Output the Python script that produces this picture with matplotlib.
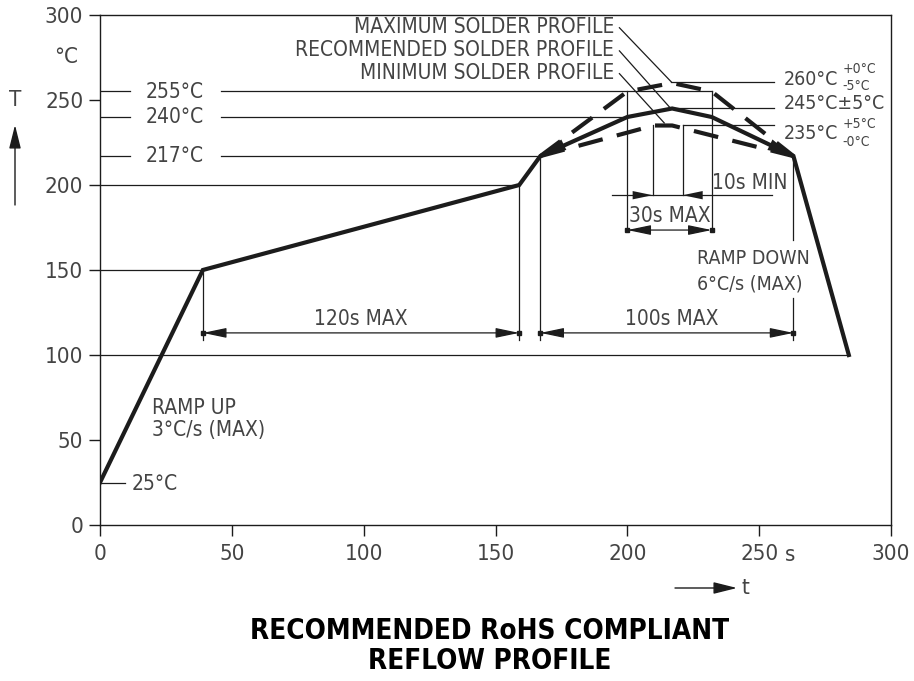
import matplotlib
matplotlib.use("Agg")  # headless
import matplotlib.pyplot as plt  # noqa: E402

# recommended profile (solid)
time_s = [0, 39, 159, 167, 200, 217, 232, 263, 284]
temp_rec = [25, 150, 200, 217, 240, 245, 240, 217, 100]
# maximum / minimum profiles (dashed)
max_time = [167, 200, 217, 232, 263]
max_temp = [217, 255, 260, 255, 217]
min_time = [167, 210, 217, 263]
min_temp = [217, 235, 235, 217]

ticks = [0, 50, 100, 150, 200, 250, 300]
# left reference levels and where their lines stop
ref_temps = [255, 240, 217]
ref_ends = [232, 200, 167]

plt.rcParams["font.family"] = ["DejaVu Sans"]
plt.rcParams["font.stretch"] = "condensed"
INK = "#1c1c1c"
TXT = "#444444"
FS = 15
FS_R = 14

W, H = 914, 681


def fpx(x, y):
    """image pixel -> figure fraction"""
    return x / W, 1 - y / H


fig = plt.figure(figsize=(W / 100, H / 100), dpi=100)
ax = fig.add_axes([100 / W, 1 - 525 / H, 791 / W, 510 / H])
ax.set_xlim(0, 300)
ax.set_ylim(0, 300)
ax.set_xticks(ticks)
ax.set_yticks(ticks)
ax.tick_params(direction="out", length=8, width=1, color=INK,
               labelsize=16, labelcolor=TXT)
ax.tick_params(axis="x", pad=6)
ax.tick_params(axis="y", pad=4)
for sp in ax.spines.values():
    sp.set_color(INK)
    sp.set_linewidth(1)

thin = dict(color=INK, lw=0.9)

# profiles
ax.plot(time_s, temp_rec, color=INK, lw=3, solid_joinstyle="miter", zorder=5)
ax.plot(max_time, max_temp, color=INK, lw=3, dashes=(6, 3.5), zorder=5)
ax.plot(min_time, min_temp, color=INK, lw=3, dashes=(6, 3.5), zorder=5)

# arrowheads at both ends of the peak zone
arr = dict(arrowstyle="-|>,head_length=1.2,head_width=0.3", color=INK,
           lw=0, mutation_scale=14)
ax.annotate("", xy=(time_s[3], temp_rec[3]), xytext=(175, 223),
            arrowprops=arr, zorder=6)
ax.annotate("", xy=(time_s[7], temp_rec[7]), xytext=(255, 223),
            arrowprops=arr, zorder=6)

# horizontal reference lines
ax.plot([0, time_s[1]], [150, 150], **thin)
ax.plot([0, time_s[2]], [200, 200], **thin)
ax.plot([0, time_s[-1]], [100, 100], **thin)
for T, end in zip(ref_temps, ref_ends):
    ax.plot([0, 11.4], [T, T], **thin)
    ax.plot([46, end], [T, T], **thin)
    ax.text(28.5, T, f"{T}°C", ha="center", va="center", fontsize=FS, color=TXT)

# 25 C
ax.plot([0, 9.5], [25, 25], **thin)
ax.text(12, 24, "25°C", ha="left", va="center", fontsize=FS, color=TXT)

# verticals down to the dimension lines
ax.plot([39, 39], [150, 109], **thin)
ax.plot([159, 159], [200, 109], **thin)
ax.plot([167, 167], [217, 109], **thin)
ax.plot([263, 263], [217, 167.5], **thin)
ax.plot([263, 263], [133.5, 109], **thin)

# dimension lines
dim = dict(arrowstyle="<|-|>,head_length=1.2,head_width=0.25", color=INK,
           lw=0.9, mutation_scale=12, shrinkA=0, shrinkB=0)
ax.annotate("", xy=(39, 113), xytext=(159, 113), arrowprops=dim)
ax.annotate("", xy=(167, 113), xytext=(263, 113), arrowprops=dim)
ax.plot([39, 159, 167, 263], [113] * 4, "s", color=INK, ms=3)
ax.text(99, 121, "120s MAX", ha="center", va="center", fontsize=FS, color=TXT)
ax.text(217, 121, "100s MAX", ha="center", va="center", fontsize=FS, color=TXT)

# 255 box and 30s MAX
ax.plot([200, 200], [255, 173.5], **thin)
ax.plot([232, 232], [255, 173.5], **thin)
ax.annotate("", xy=(200, 173.5), xytext=(232, 173.5), arrowprops=dim)
ax.plot([200, 232], [173.5, 173.5], "s", color=INK, ms=3)
ax.text(216, 182, "30s MAX", ha="center", va="center", fontsize=FS, color=TXT)

# 10s MIN
ax.plot([209.6, 209.6], [235, 194], **thin)
ax.plot([221, 221], [235, 194], **thin)
ax.plot([194, 255], [194, 194], **thin)
one = dict(arrowstyle="-|>,head_length=1.2,head_width=0.25", color=INK,
           lw=0, mutation_scale=12, shrinkA=0, shrinkB=0)
ax.annotate("", xy=(209.6, 194), xytext=(197, 194), arrowprops=one)
ax.annotate("", xy=(221, 194), xytext=(234, 194), arrowprops=one)
ax.text(246.5, 201, "10s MIN", ha="center", va="center", fontsize=FS, color=TXT)

# right-hand peak labels
ax.plot([216.7, 255.7], [260.6, 260.6], **thin)
ax.plot([216, 255.7], [245, 245], **thin)
ax.plot([221, 255.7], [235, 235], **thin)
ax.text(259.5, 262, "260°C", ha="left", va="center", fontsize=FS_R, color=TXT)
ax.text(281.5, 268.5, "+0°C", ha="left", va="center", fontsize=10, color=TXT)
ax.text(281.5, 258, "-5°C", ha="left", va="center", fontsize=10, color=TXT)
ax.text(259.5, 248, "245°C±5°C", ha="left", va="center", fontsize=FS_R, color=TXT)
ax.text(259.5, 230.5, "235°C", ha="left", va="center", fontsize=FS_R, color=TXT)
ax.text(281.5, 236, "+5°C", ha="left", va="center", fontsize=10, color=TXT)
ax.text(281.5, 225.5, "-0°C", ha="left", va="center", fontsize=10, color=TXT)

# profile names with leaders
names = ["MAXIMUM SOLDER PROFILE", "RECOMMENDED SOLDER PROFILE",
         "MINIMUM SOLDER PROFILE"]
name_y = [293, 279.4, 266]
leader_to = [(216.7, 260.6), (216.3, 245.3), (214, 236.5)]
for name, y, (tx, ty) in zip(names, name_y, leader_to):
    ax.text(195, y, name, ha="right", va="center", fontsize=FS, color=TXT)
    ax.plot([197, tx], [y - 0.5, ty], **thin)

# ramp notes
ax.text(19.7, 69, "RAMP UP", ha="left", va="center", fontsize=FS, color=TXT)
ax.text(19.7, 56, "3°C/s (MAX)", ha="left", va="center", fontsize=FS, color=TXT)
ax.text(226.5, 157, "RAMP DOWN", ha="left", va="center", fontsize=FS_R, color=TXT)
ax.text(226.5, 142, "6°C/s (MAX)", ha="left", va="center", fontsize=FS_R, color=TXT)

# axis names
fig.text(*fpx(66, 57), "°C", ha="center", va="center", fontsize=16, color=TXT)
fig.text(*fpx(790, 555), "s", ha="center", va="center", fontsize=16, color=TXT)
fig.text(*fpx(15, 100), "T", ha="center", va="center", fontsize=16, color=TXT)
fig.text(*fpx(745, 588), "t", ha="center", va="center", fontsize=16, color=TXT)
fig_arr = dict(arrowstyle="-|>,head_length=1.2,head_width=0.3", color=INK,
               lw=1, mutation_scale=12, shrinkA=0, shrinkB=0)
fig.add_artist(matplotlib.patches.FancyArrowPatch(
    fpx(15, 205), fpx(15, 125), transform=fig.transFigure, **fig_arr))
fig.add_artist(matplotlib.patches.FancyArrowPatch(
    fpx(675, 588), fpx(737, 588), transform=fig.transFigure, **fig_arr))

fig.text(*fpx(490, 646), "RECOMMENDED RoHS COMPLIANT\nREFLOW PROFILE",
         ha="center", va="center", fontsize=20, fontweight="bold",
         color="black", linespacing=1.1)

fig.savefig("out.png", dpi=100)
